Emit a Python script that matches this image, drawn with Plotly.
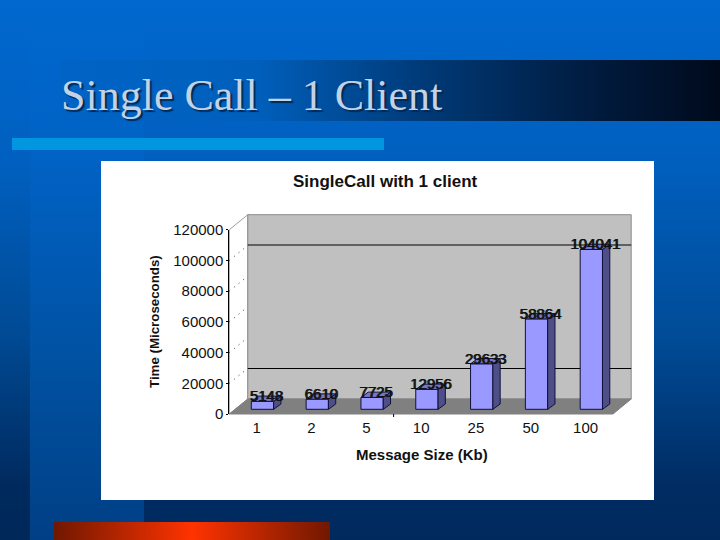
import base64
import plotly.graph_objects as go

categories = ["1", "2", "5", "10", "25", "50", "100"]
times = [5148, 6610, 7725, 12956, 29633, 58864, 104041]
y_ticks = [0, 20000, 40000, 60000, 80000, 100000, 120000]
chart_title = "SingleCall with 1 client"
slide_title = "Single Call – 1 Client"
x_title = "Message Size (Kb)"
y_title = "Time (Microseconds)"

W, H = 720, 540
def px(x): return x / W
def py(y): return 1 - y / H

svg = f'''<svg xmlns="http://www.w3.org/2000/svg" width="{W}" height="{H}" viewBox="0 0 {W} {H}">
<defs>
<linearGradient id="main" x1="0" y1="0" x2="0" y2="1">
<stop offset="0" stop-color="#0068cf"/><stop offset="0.28" stop-color="#0060c0"/>
<stop offset="0.62" stop-color="#004c98"/><stop offset="0.9" stop-color="#002c62"/><stop offset="1" stop-color="#002a5e"/>
</linearGradient>
<linearGradient id="band" x1="0" y1="0" x2="0" y2="1">
<stop offset="0" stop-color="#0068cf"/><stop offset="0.3" stop-color="#0062c4"/>
<stop offset="0.7" stop-color="#00509f"/><stop offset="1" stop-color="#003f85"/>
</linearGradient>
<linearGradient id="edge" x1="0" y1="0" x2="0" y2="1">
<stop offset="0" stop-color="#0068cf"/><stop offset="0.3" stop-color="#0060c0"/>
<stop offset="0.62" stop-color="#004a94"/><stop offset="0.9" stop-color="#002a5e"/><stop offset="1" stop-color="#002858"/>
</linearGradient>
<linearGradient id="head" x1="0" y1="0" x2="1" y2="0">
<stop offset="0" stop-color="#0064c6"/><stop offset="0.3" stop-color="#005fbb"/>
<stop offset="0.55" stop-color="#003a78"/><stop offset="0.8" stop-color="#001c40"/><stop offset="1" stop-color="#000a1c"/>
</linearGradient>
<linearGradient id="red" x1="0" y1="0" x2="1" y2="0">
<stop offset="0" stop-color="#701800"/><stop offset="0.5" stop-color="#ff3300"/><stop offset="1" stop-color="#701800"/>
</linearGradient>
</defs>
<rect width="{W}" height="{H}" fill="url(#main)"/>
<rect width="30" height="{H}" fill="url(#edge)"/>
<rect x="30" width="114" height="{H}" fill="url(#band)"/>
<rect x="60" y="60" width="660" height="61" fill="url(#head)"/>
<rect x="12" y="138" width="372" height="12" fill="#0096e0"/>
<rect x="54" y="522" width="276" height="18" fill="url(#red)"/>
<rect x="101" y="161" width="553" height="339" fill="#ffffff"/>
</svg>'''
bg = "data:image/svg+xml;base64," + base64.b64encode(svg.encode()).decode()

# plot geometry
x0, x1 = 229.3, 613.0
ytop, ybot = 229.7, 414.0
wall_dx, wall_dy = 18.5, 15.0
unit_x = (x1 - x0) / len(categories)
unit_y = 120000 / (ybot - ytop)

base = 4.7 * unit_y
bar_w = 22.3 / unit_x
bar_off = -5.4 / unit_x
dx = 7.3 / unit_x
dy = 5.3 * unit_y
label_drop = 3.5 * unit_y

xs = list(range(len(categories)))
tops = [base + v for v in times]

fig = go.Figure()
fig.add_trace(go.Bar(x=xs, y=times, base=base, width=bar_w, offset=bar_off,
                     marker=dict(color="#9999ff", line=dict(color="#10103c", width=1)),
                     hoverinfo="skip", showlegend=False))

side_x, side_y, top_x, top_y = [], [], [], []
for x, t in zip(xs, tops):
    l = x + bar_off
    r = l + bar_w
    side_x += [r, r + dx, r + dx, r, r, None]
    side_y += [t, t + dy, base + dy, base, t, None]
    top_x += [l, l + dx, r + dx, r, l, None]
    top_y += [t, t + dy, t + dy, t, t, None]
fig.add_trace(go.Scatter(x=side_x, y=side_y, mode="lines", fill="toself", fillcolor="#4f4f88",
                         line=dict(color="#10103c", width=1), hoverinfo="skip", showlegend=False))
fig.add_trace(go.Scatter(x=top_x, y=top_y, mode="lines", fill="toself", fillcolor="#7676c4",
                         line=dict(color="#10103c", width=1), hoverinfo="skip", showlegend=False))
fig.add_trace(go.Scatter(x=[x + bar_off + bar_w * 0.5 + dx * 0.5 for x in xs], y=[t - label_drop for t in tops],
                         mode="text", text=[str(v) for v in times], textposition="top center", cliponaxis=False,
                         textfont=dict(family="Liberation Sans", size=15, color="#111111", shadow="1px 0 0 #111111"),
                         hoverinfo="skip", showlegend=False))

def line(xa, ya, xb, yb, color="#000000", width=1, dash="solid"):
    return dict(type="line", xref="paper", yref="paper", x0=px(xa), y0=py(ya), x1=px(xb), y1=py(yb),
                line=dict(color=color, width=width, dash=dash), layer="below")

def poly(points, fill, outline=None):
    p = "M" + " L".join(f"{px(a):.5f},{py(b):.5f}" for a, b in points) + " Z"
    return dict(type="path", xref="paper", yref="paper", path=p, fillcolor=fill,
                line=dict(color=outline or fill, width=1), layer="below")

bx0, bx1 = x0 + wall_dx, x1 + wall_dx - 0.3
by0, by1 = ybot - wall_dy, ytop - wall_dy
shapes = [
    poly([(x0, ytop), (bx0, by1), (bx0, by0), (x0, ybot)], "#ffffff", "#a0a0a0"),
    poly([(bx0, by1), (bx1, by1), (bx1, by0), (bx0, by0)], "#c0c0c0", "#8c8c8c"),
    poly([(x0, ybot), (bx0, by0), (bx1, by0), (x1, ybot)], "#808080"),
    line(bx0, 245, bx1, 245),
    line(bx0, 368.5, bx1, 368.5),
    line(393.6, ybot, 393.6, ybot + 3),
]
for tick in y_ticks[1:-1]:
    yy = ybot - tick / unit_y
    shapes.append(line(x0, yy, bx0, yy - wall_dy, "#333333", 1, "1px,5px"))

fig.update_layout(
    width=W, height=H, autosize=False,
    margin=dict(l=0, r=0, t=0, b=0, pad=0),
    paper_bgcolor="#0060c0", plot_bgcolor="rgba(0,0,0,0)",
    showlegend=False, barmode="overlay",
    images=[dict(source=bg, xref="paper", yref="paper", x=0, y=1, sizex=1, sizey=1,
                 xanchor="left", yanchor="top", sizing="stretch", layer="below")],
    shapes=shapes,
    annotations=[
        dict(text=slide_title, xref="paper", yref="paper", x=px(59), y=py(95), xanchor="left", yanchor="middle",
             showarrow=False, font=dict(family="Liberation Serif", size=44, color="#c4d2e6",
                                        shadow="2px 2px 1px #002a58")),
        dict(text=f"<b>{chart_title}</b>", xref="paper", yref="paper", x=px(385), y=py(181), xanchor="center",
             yanchor="middle", showarrow=False, font=dict(family="Liberation Sans", size=17, color="#111111")),
        dict(text=f"<b>{x_title}</b>", xref="paper", yref="paper", x=px(422), y=py(454.5), xanchor="center",
             yanchor="middle", showarrow=False, font=dict(family="Liberation Sans", size=15, color="#111111")),
        dict(text=f"<b>{y_title}</b>", xref="paper", yref="paper", x=px(154), y=py(322), xanchor="center",
             yanchor="middle", textangle=-90, showarrow=False,
             font=dict(family="Liberation Sans", size=13.3, color="#111111")),
    ],
    xaxis=dict(domain=[px(x0), px(x1)], range=[-0.5, len(categories) - 0.5], tickmode="array",
               tickvals=xs, ticktext=categories, ticks="", ticklabelstandoff=3, showgrid=False, zeroline=False,
               showline=False, automargin=False, tickfont=dict(family="Liberation Sans", size=15, color="#111111")),
    yaxis=dict(domain=[py(ybot), py(ytop)], range=[0, 120000], tickmode="array", tickvals=y_ticks,
               ticktext=[str(v) for v in y_ticks], ticks="outside", ticklen=2, tickcolor="#000000",
               showgrid=False, zeroline=False, showline=True, linecolor="#000000", linewidth=1,
               automargin=False, tickfont=dict(family="Liberation Sans", size=15, color="#111111")),
)

fig.write_html("out.html", config=dict(displayModeBar=False),
               post_script="document.body.style.margin='0';")
